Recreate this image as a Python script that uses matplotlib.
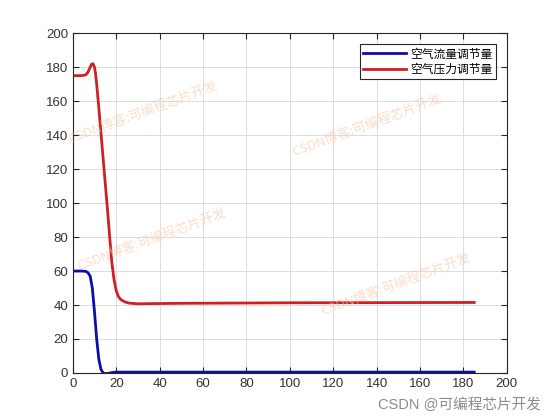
import numpy as np
import matplotlib
matplotlib.use("Agg")
import matplotlib.pyplot as plt

plt.rcParams['font.family'] = ['Liberation Sans', 'Noto Sans CJK SC', 'DejaVu Sans']

# Data
blue_t = [0, 2, 4, 6, 7, 8, 9, 10, 11, 12, 13, 14, 15, 16, 18, 20, 25, 30, 60, 100, 140, 185]
blue_v = [60, 60, 60, 59.8, 59, 57, 50, 36, 20, 8, 2, 0, -0.4, -0.3, 0.2, 0.5, 0.5, 0.5, 0.5, 0.5, 0.5, 0.5]

red_t = [0, 2, 4, 6, 7, 8, 8.7, 9.3, 10, 10.5, 11, 12, 13, 14, 15, 16, 17, 18, 19, 20, 21, 22, 24, 26, 30, 35, 50, 100, 185]
red_v = [175, 175, 175, 175.5, 177, 180, 181.8, 182, 180, 176, 170, 156, 141, 126, 111, 96, 80, 65, 55, 48.5, 45, 43.3, 41.8, 41.1, 40.7, 40.8, 41, 41.3, 41.5]

labels = ['空气流量调节量', '空气压力调节量']
xticks = list(range(0, 201, 20))
yticks = list(range(0, 201, 20))

fig = plt.figure(figsize=(5.6, 4.2), dpi=100)
ax = fig.add_axes([0.13, 0.112, 0.775, 0.809])

ax.plot(blue_t, blue_v, color='#0e0ea6', lw=2.0, label=labels[0])
ax.plot(red_t, red_v, color='#d01f24', lw=2.0, label=labels[1])

ax.set_xlim(0, 200)
ax.set_ylim(0, 200)
ax.set_xticks(xticks)
ax.set_yticks(yticks)
ax.tick_params(direction='in', labelsize=9.5, length=4, top=True, right=True,
               colors='#262626', labelcolor='#333333')
ax.grid(True, color='#dcdcdc', lw=0.7)
for s in ax.spines.values():
    s.set_color('#262626')
    s.set_linewidth(0.8)

leg = ax.legend(loc='upper right', fancybox=False, framealpha=1,
                edgecolor='#262626', handlelength=3.6, borderpad=0.3,
                labelspacing=0.2, handletextpad=0.4, borderaxespad=0.9,
                prop={'family': ['Noto Sans CJK SC'], 'size': 8.5})
leg.get_frame().set_linewidth(0.8)

# watermarks
wm = 'CSDN博客:可编程芯片开发'
for x, y in [(0.118, 0.66), (0.518, 0.63), (0.134, 0.357), (0.571, 0.25)]:
    fig.text(x, y, wm, rotation=20, color='#f3c9a8', alpha=0.6, fontsize=9.5,
             family=['Noto Sans CJK SC'])

fig.text(0.965, 0.025, 'CSDN @可编程芯片开发', ha='right', color='#8c8c8c', fontsize=10.5,
         family=['Liberation Sans', 'Noto Sans CJK SC'])

fig.savefig('out.png', dpi=100)
